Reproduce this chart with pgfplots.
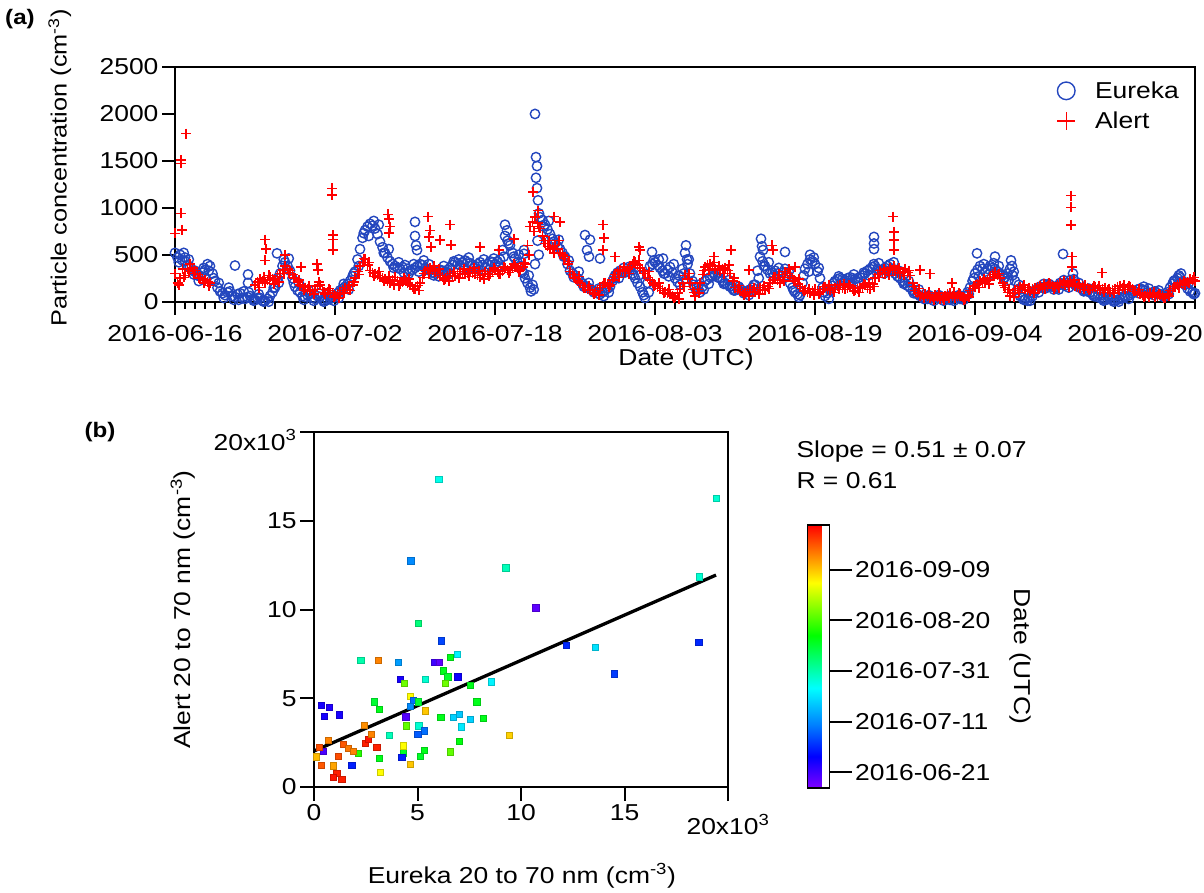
\documentclass[border=0pt]{standalone}
\usepackage{fontspec}
\setmainfont{Liberation Sans}[FakeStretch=1.15]
\usepackage{pgfplots}
\usepackage{pgfplotstable}
\pgfplotsset{compat=1.18}

\definecolor{eublue}{RGB}{35,70,190}
\definecolor{alred}{RGB}{255,0,0}
\pgfplotsset{colormap={igorrainbow}{rgb(0pt)=(0.5,0,1); rgb(12pt)=(0,0,1); rgb(24pt)=(0,0.5,1); rgb(38pt)=(0,1,1); rgb(58pt)=(0,1,0); rgb(78pt)=(1,1,0); rgb(89pt)=(1,0.5,0); rgb(100pt)=(1,0,0)}}

% panel (a): t = days since 2016-06-16
% a,b,c,d = values at t, t+6h, t+12h, t+18h; e,f = values at t+9h, t+21h
\pgfplotstableread[row sep=\\]{t a b c d e f\\
0 520 470 500 440 420 520\\ 1 430 390 370 330 450 290\\ 2 330 280 270 310 220 360\\
3 340 400 380 300 330 250\\ 4 220 150 110 90 200 40\\ 5 70 100 110 60 150 20\\
6 50 80 90 40 20 110\\ 7 30 50 60 30 100 10\\ 8 20 40 40 10 80 0\\
9 10 30 60 100 0 150\\ 10 150 250 300 380 200 450\\ 11 420 380 330 250 460 200\\
12 160 120 100 60 200 20\\ 13 50 70 80 40 120 10\\ 14 30 60 50 20 90 0\\
15 10 20 30 40 60 10\\ 16 60 90 120 140 40 190\\ 17 160 190 220 270 130 300\\
18 320 450 560 680 380 730\\ 19 760 800 830 810 700 860\\ 20 780 720 640 580 820 520\\
21 520 470 430 400 560 360\\ 22 380 360 350 370 420 310\\ 23 390 350 330 340 300 400\\
24 360 380 400 390 320 440\\ 25 360 340 330 310 400 280\\ 26 300 320 340 330 270 380\\
27 320 340 360 390 290 430\\ 28 420 400 390 420 450 360\\ 29 440 420 410 390 470 360\\
30 380 400 420 390 340 450\\ 31 370 400 430 420 340 460\\ 32 400 430 450 550 380 480\\
33 700 650 600 520 620 480\\ 34 460 420 380 320 500 300\\ 35 250 200 150 180 280 130\\
36 400 650 900 870 500 800\\ 37 820 770 720 670 860 640\\ 38 620 590 560 520 660 480\\
39 480 400 330 300 440 260\\ 40 280 250 220 190 320 160\\ 41 170 150 140 120 200 100\\
42 110 90 80 100 140 60\\ 43 120 140 160 220 100 250\\ 44 280 310 330 320 250 360\\
45 310 330 340 300 370 280\\ 46 250 200 160 100 280 70\\ 47 40 200 380 400 100 440\\
48 420 390 360 330 450 300\\ 49 300 340 370 310 270 400\\ 50 250 210 180 350 280 300\\
51 520 400 300 220 450 180\\ 52 150 120 100 160 180 130\\ 53 220 240 260 270 190 300\\
54 280 260 250 220 310 190\\ 55 200 180 160 140 230 120\\ 56 120 130 140 120 160 90\\
57 100 110 130 150 70 180\\ 58 180 330 480 430 250 380\\ 59 380 340 300 310 420 270\\
60 330 300 280 310 360 250\\ 61 350 280 200 150 320 120\\ 62 100 80 70 200 50 280\\
63 350 400 450 430 320 470\\ 64 400 320 250 150 360 100\\ 65 60 90 120 170 30 200\\
66 220 240 250 240 270 210\\ 67 230 250 260 250 200 290\\ 68 240 250 260 280 210 310\\
69 300 330 350 370 280 400\\ 70 380 350 330 340 410 300\\ 71 360 380 400 350 330 420\\
72 300 270 250 220 330 190\\ 73 200 170 150 120 220 90\\ 74 100 80 60 50 130 30\\
75 40 30 30 40 70 10\\ 76 50 40 30 40 70 10\\ 77 40 30 20 30 60 10\\
78 50 40 30 40 70 20\\ 79 60 100 150 220 80 250\\ 80 300 340 380 350 270 400\\
81 320 350 380 360 290 410\\ 82 350 320 300 280 380 250\\ 83 260 300 350 280 230 320\\
84 220 130 60 40 180 20\\ 85 20 10 10 60 40 90\\ 86 120 140 160 150 100 190\\
87 140 160 180 160 190 130\\ 88 150 170 200 190 130 230\\ 89 170 200 230 200 150 240\\
90 180 160 150 130 200 110\\ 91 120 110 100 80 140 60\\ 92 60 50 40 30 80 10\\
93 20 25 30 20 50 0\\ 94 10 20 30 40 0 60\\ 95 50 60 70 90 30 110\\
96 110 130 140 130 90 160\\ 97 120 100 90 100 140 70\\ 98 110 90 80 70 120 50\\
99 60 100 150 190 80 220\\ 100 230 250 260 220 280 200\\ 101 180 140 110 100 200 80\\
}\eureka

\pgfplotstableread[row sep=\\]{t v\\
102 90\\ 1 470\\ 6 385\\ 7.3 290\\ 7.3 200\\ 10.2 515\\ 24 850\\ 24 700\\ 24.1 600\\ 24.2 550\\
33 820\\ 33.2 760\\ 34.9 550\\ 34.9 510\\ 35.6 110\\ 36 2000\\ 36.1 1540\\ 36.2 1445\\ 36.1 1320\\
36.2 1210\\ 36.3 1080\\ 36.4 940\\ 41 710\\ 41.5 660\\ 41.2 550\\ 41.4 480\\ 42.5 460\\ 47.7 530\\
48.8 460\\ 51.1 600\\ 51.2 450\\ 58.6 670\\ 58.7 590\\ 58.8 550\\ 61 530\\ 63.5 500\\ 69.9 690\\
69.9 620\\ 69.9 560\\ 80.2 515\\ 82 480\\ 83.6 440\\ 83.7 380\\ 88.8 508\\ 89.8 300\\ 100.6 300\\
}\eurekaout

\pgfplotstableread[row sep=\\]{t a b c d e f\\
0 300 200 250 350 180 260\\ 1 280 350 400 360 320 300\\ 2 330 290 260 240 250 200\\
3 230 210 200 nan 170 nan\\ 8 180 210 240 220 150 260\\ 9 200 230 260 240 280 190\\
10 230 270 300 340 210 300\\ 11 380 350 330 290 310 250\\ 12 250 210 180 160 230 120\\
13 150 130 110 120 170 80\\ 14 130 160 180 130 210 100\\ 15 80 100 120 90 140 50\\
16 60 80 100 120 40 90\\ 17 150 130 120 180 170 210\\ 18 250 320 380 420 290 460\\
19 450 390 330 310 420 270\\ 20 300 280 260 250 320 220\\ 21 240 220 200 230 270 180\\
22 260 220 190 210 170 250\\ 23 230 200 180 160 240 130\\ 24 140 170 200 260 120 300\\
25 330 350 360 340 300 380\\ 26 320 300 280 260 350 230\\ 27 240 270 300 280 220 320\\
28 270 300 320 300 250 350\\ 29 290 310 330 310 270 360\\ 30 300 280 260 290 330 240\\
31 320 300 290 320 270 360\\ 32 340 320 300 330 290 370\\ 33 360 340 330 360 310 400\\
34 380 360 340 370 320 410\\ 35 400 600 800 850 500 750\\ 36 900 840 780 700 800 650\\
37 620 590 560 580 650 520\\ 38 600 560 520 500 650 460\\ 39 480 400 320 290 430 260\\
40 250 220 200 170 270 150\\ 41 150 130 120 100 170 80\\ 42 90 120 150 170 70 200\\
43 200 190 180 230 160 260\\ 44 290 320 340 330 260 370\\ 45 320 350 370 400 300 430\\
46 420 390 360 330 440 300\\ 47 300 260 230 200 320 170\\ 48 180 160 140 120 200 90\\
49 100 90 80 60 130 40\\ 50 50 90 130 200 30 160\\ 51 280 240 200 130 300 100\\
52 60 130 200 290 90 330\\ 53 370 390 400 380 340 420\\ 54 350 340 330 350 380 300\\
55 360 330 300 220 390 250\\ 56 150 130 110 100 170 70\\ 57 90 110 130 110 60 150\\
58 100 130 150 130 80 170\\ 59 120 160 200 230 140 260\\ 60 260 230 200 260 290 220\\
61 320 300 280 250 350 220\\ 62 220 190 160 140 240 110\\ 63 120 100 90 110 140 70\\
64 130 110 100 130 80 160\\ 65 160 140 120 130 180 100\\ 66 150 170 180 150 130 190\\
67 130 150 160 140 180 110\\ 68 120 140 150 160 100 190\\ 69 180 150 130 190 200 160\\
70 250 290 330 310 260 350\\ 71 300 330 360 340 280 380\\ 72 330 310 300 320 360 280\\
73 350 310 280 200 330 160\\ 74 120 90 60 70 140 40\\ 75 80 60 40 50 100 20\\
76 70 50 30 40 90 20\\ 77 60 80 90 60 40 100\\ 78 40 60 80 50 90 20\\
79 30 70 120 140 50 170\\ 80 160 190 220 210 150 240\\ 81 200 230 260 290 190 270\\
82 320 280 250 200 300 170\\ 83 150 100 60 90 130 50\\ 84 120 140 160 150 100 180\\
85 130 120 110 130 150 90\\ 86 150 160 170 150 130 190\\ 87 140 170 190 170 200 140\\
88 160 180 200 190 150 220\\ 89 180 200 220 190 160 230\\ 90 170 160 150 170 190 130\\
91 180 150 130 150 120 170\\ 92 160 140 120 130 170 100\\ 93 150 120 100 120 140 90\\
94 140 160 170 150 120 180\\ 95 130 150 160 130 170 110\\ 96 110 90 80 70 130 50\\
97 60 80 90 70 50 100\\ 98 50 60 70 60 80 40\\ 99 40 80 120 140 60 160\\
100 160 180 200 190 150 220\\ 101 180 210 240 230 200 260\\
}\alert

\pgfplotstableread[row sep=\\]{t v\\
102 220\\ 0 728\\ 0.6 1508\\ 0.6 1474\\ 0.6 941\\ 0.7 764\\ 1.1 1790\\ 9 660\\ 9.1 560\\ 9 440\\ 11 500\\
12.6 370\\ 14.2 400\\ 14.3 340\\ 15.7 1207\\ 15.7 1136\\ 15.8 710\\ 15.8 660\\ 15.8 550\\
21.3 930\\ 21.4 880\\ 21.5 800\\ 21.4 730\\ 25.3 906\\ 25.5 760\\ 25.4 690\\ 25.6 580\\ 26.5 655\\
27.5 820\\ 27.6 604\\ 30.5 585\\ 32.4 550\\ 33.9 670\\ 35.8 1170\\ 36.3 970\\ 37.9 906\\ 38.5 850\\
42.8 820\\ 42.9 680\\ 42.8 550\\ 44 480\\ 46.4 585\\ 46.5 550\\ 53.9 480\\ 55.6 550\\ 57.4 340\\
59.7 600\\ 59.8 550\\ 62 370\\ 71.8 906\\ 71.9 745\\ 71.9 655\\ 71.9 550\\ 74.5 340\\ 75.5 300\\
77.7 200\\ 89.6 1130\\ 89.6 1005\\ 89.6 818\\ 89.7 480\\ 89.7 370\\ 92.7 310\\
}\alertout

% panel (b): thousands of cm^-3, c = days since 2016-06-16
\pgfplotstableread[row sep=\\]{x y c\\
5.04 9.22 49\\ 6.14 8.24 18\\ 2.25 7.15 45\\ 3.11 7.15 91\\ 4.07 7.02 27\\ 5.81 7.02 5\\
6.04 7.02 2\\ 6.57 7.30 57\\ 6.92 7.47 37\\ 6.25 6.55 57\\ 6.46 6.22 56\\ 6.94 6.22 10\\
6.33 5.84 68\\ 4.15 6.07 9\\ 4.35 5.86 68\\ 5.36 6.07 42\\ 7.54 5.75 57\\ 8.55 5.93 37\\
4.64 5.13 80\\ 4.80 4.90 22\\ 4.64 4.56 25\\ 5.04 4.80 55\\ 2.90 4.80 55\\ 3.15 4.39 57\\
4.43 3.96 3\\ 5.36 4.30 85\\ 7.86 4.80 57\\ 6.12 3.92 57\\ 6.73 3.92 33\\ 7.00 4.11 32\\
7.54 3.83 33\\ 8.18 3.86 57\\ 7.10 3.40 36\\ 5.05 3.46 42\\ 4.44 3.46 67\\ 5.33 3.17 22\\
5.01 2.97 20\\ 3.64 2.91 44\\ 7.02 2.59 58\\ 6.57 1.99 67\\ 5.32 2.08 57\\ 5.12 1.75 56\\
4.30 1.93 56\\ 4.30 2.33 80\\ 4.24 1.67 14\\ 4.64 1.30 85\\ 3.19 0.83 80\\ 3.15 1.61 57\\
2.14 1.90 62\\ 3.03 2.24 100\\ 2.46 2.46 100\\ 2.62 2.69 101\\ 2.75 2.99 91\\ 2.43 3.49 90\\
1.42 2.40 95\\ 1.66 2.18 92\\ 1.90 2.03 91\\ 0.69 2.65 91\\ 0.45 2.03 4\\ 0.26 2.24 96\\
0.10 1.71 86\\ 0.34 1.24 95\\ 1.17 1.75 96\\ 0.93 1.20 88\\ 1.10 0.77 100\\ 0.93 0.55 101\\
1.34 0.45 100\\ 1.82 1.24 14\\ 0.34 4.62 9\\ 0.74 4.49 8\\ 0.48 4.00 9\\ 1.21 4.07 9\\
9.44 2.93 84\\ 9.26 12.36 44\\ 10.71 10.10 2\\ 12.17 8.00 15\\ 13.57 7.89 35\\ 14.51 6.38 17\\
18.58 8.17 15\\ 18.62 11.85 42\\ 19.42 16.26 42\\ 6.02 17.33 40\\ 4.67 12.75 25\\
}\scat

\pgfplotsset{
  igor/.style={
    scale only axis, clip=false,
    axis line style={line width=2pt},
    every tick/.style={black, line width=2pt},
    tick align=outside, tick pos=left,
    major tick length=13pt, minor tick length=7pt,
    scaled ticks=false,
    /pgf/number format/assume math mode=true,
    /pgf/number format/1000 sep={},
  },
  eu/.style={only marks, mark=o, mark size=4.7pt, eublue, line width=1.4pt},
  al/.style={only marks, mark=+, mark size=5pt, alred, line width=1.5pt},
}

\begin{document}
\begin{tikzpicture}[font=\fontsize{23}{27}\selectfont]
\useasboundingbox (0,0) rectangle (1204pt,892pt);

\begin{axis}[igor,
  at={(175pt,590.3pt)}, anchor=south west,
  width=1020pt, height=234.7pt,
  xmin=0, xmax=102, ymin=0, ymax=2500,
  xtick={0,16,32,48,64,80,96},
  xticklabels={2016-06-16,2016-07-02,2016-07-18,2016-08-03,2016-08-19,2016-09-04,2016-09-20},
  xticklabel style={yshift=-7pt},
  minor xtick={0,1,...,102},
  ytick={0,500,1000,1500,2000,2500},
  xlabel={Date (UTC)},
  xlabel style={at={(axis description cs:0.501,-0.245)}, anchor=center},
  ylabel={Particle concentration (cm\textsuperscript{-3})},
  ylabel style={at={(axis description cs:-0.113,0.57)}, anchor=center, rotate=0,
    font=\fontsize{22}{26}\selectfont},
  legend style={draw=none, fill=none, at={(0.862,0.955)}, anchor=north west,
    legend cell align=left, row sep=8pt,
    /tikz/every odd column/.append style={column sep=18pt}},
  legend image code/.code={\draw[#1, mark size=8.8pt] plot coordinates {(9pt,0pt)};},
]
\addplot[eu] table[x=t, y=a] {\eureka};
\addlegendentry{Eureka}
\addplot[eu, forget plot] table[x expr=\thisrow{t}+0.25, y=b] {\eureka};
\addplot[eu, forget plot] table[x expr=\thisrow{t}+0.375, y=e] {\eureka};
\addplot[eu, forget plot] table[x expr=\thisrow{t}+0.5, y=c] {\eureka};
\addplot[eu, forget plot] table[x expr=\thisrow{t}+0.75, y=d] {\eureka};
\addplot[eu, forget plot] table[x expr=\thisrow{t}+0.875, y=f] {\eureka};
\addplot[eu, forget plot] table[x=t, y=v] {\eurekaout};
\addplot[al] table[x=t, y=a] {\alert};
\addlegendentry{Alert}
\addplot[al, forget plot] table[x expr=\thisrow{t}+0.25, y=b] {\alert};
\addplot[al, forget plot] table[x expr=\thisrow{t}+0.375, y=e] {\alert};
\addplot[al, forget plot] table[x expr=\thisrow{t}+0.5, y=c] {\alert};
\addplot[al, forget plot] table[x expr=\thisrow{t}+0.75, y=d] {\alert};
\addplot[al, forget plot] table[x expr=\thisrow{t}+0.875, y=f] {\alert};
\addplot[al, forget plot] table[x=t, y=v] {\alertout};
\end{axis}

\begin{axis}[igor,
  at={(314pt,105pt)}, anchor=south west,
  width=414pt, height=355pt,
  major tick length=14pt,
  xmin=0, xmax=20, ymin=0, ymax=20,
  xtick={0,5,10,15,20}, ytick={0,5,10,15,20},
  xticklabels={0,5,10,15,{\raisebox{-10pt}[\height][\depth]{20x10\textsuperscript{3}}}},
  yticklabels={0,5,10,15,{\raisebox{-8pt}[\height][\depth]{20x10\textsuperscript{3}}}},
  xlabel={Eureka 20 to 70 nm (cm\textsuperscript{-3})},
  xlabel style={at={(axis description cs:0.502,-0.25)}, anchor=center},
  ylabel={Alert 20 to 70 nm (cm\textsuperscript{-3})},
  ylabel style={at={(axis description cs:-0.316,0.5)}, anchor=center, rotate=0},
  colormap name=igorrainbow,
  point meta min=-1.3, point meta max=102.8,
  colorbar,
  colorbar style={
    at={(parent axis.south east)}, anchor=south west,
    xshift=71pt, yshift=-1pt,
    scale only axis, width=22pt, height=263pt,
    axis line style={line width=1.5pt},
    every tick/.style={black, line width=2pt},
    tick align=outside, ytick pos=right, yticklabel pos=right,
    major tick length=22pt,
    ytick={5,25,45,65,85},
    yticklabels={2016-06-21,2016-07-11,2016-07-31,2016-08-20,2016-09-09},
    ylabel={Date (UTC)},
    ylabel style={at={(axis description cs:9.7,0.5)}, anchor=center, rotate=180},
  },
]
\addplot[scatter, only marks, mark=square*, mark size=3.2pt, scatter src=explicit]
  table[x=x, y=y, meta=c] {\scat};
\addplot[black, line width=3.3pt] coordinates {(0,2.03) (19.42,11.94)};
\node[anchor=west, align=left] at (axis description cs:1.157,0.946) {Slope = 0.51 ± 0.07};
\node[anchor=west, align=left] at (axis description cs:1.157,0.862) {R = 0.61};
\end{axis}

\node[font=\fontsize{21}{25}\selectfont\bfseries] at (20pt,873pt) {(a)};
\node[font=\fontsize{21}{25}\selectfont\bfseries] at (100pt,460pt) {(b)};
\end{tikzpicture}
\end{document}
